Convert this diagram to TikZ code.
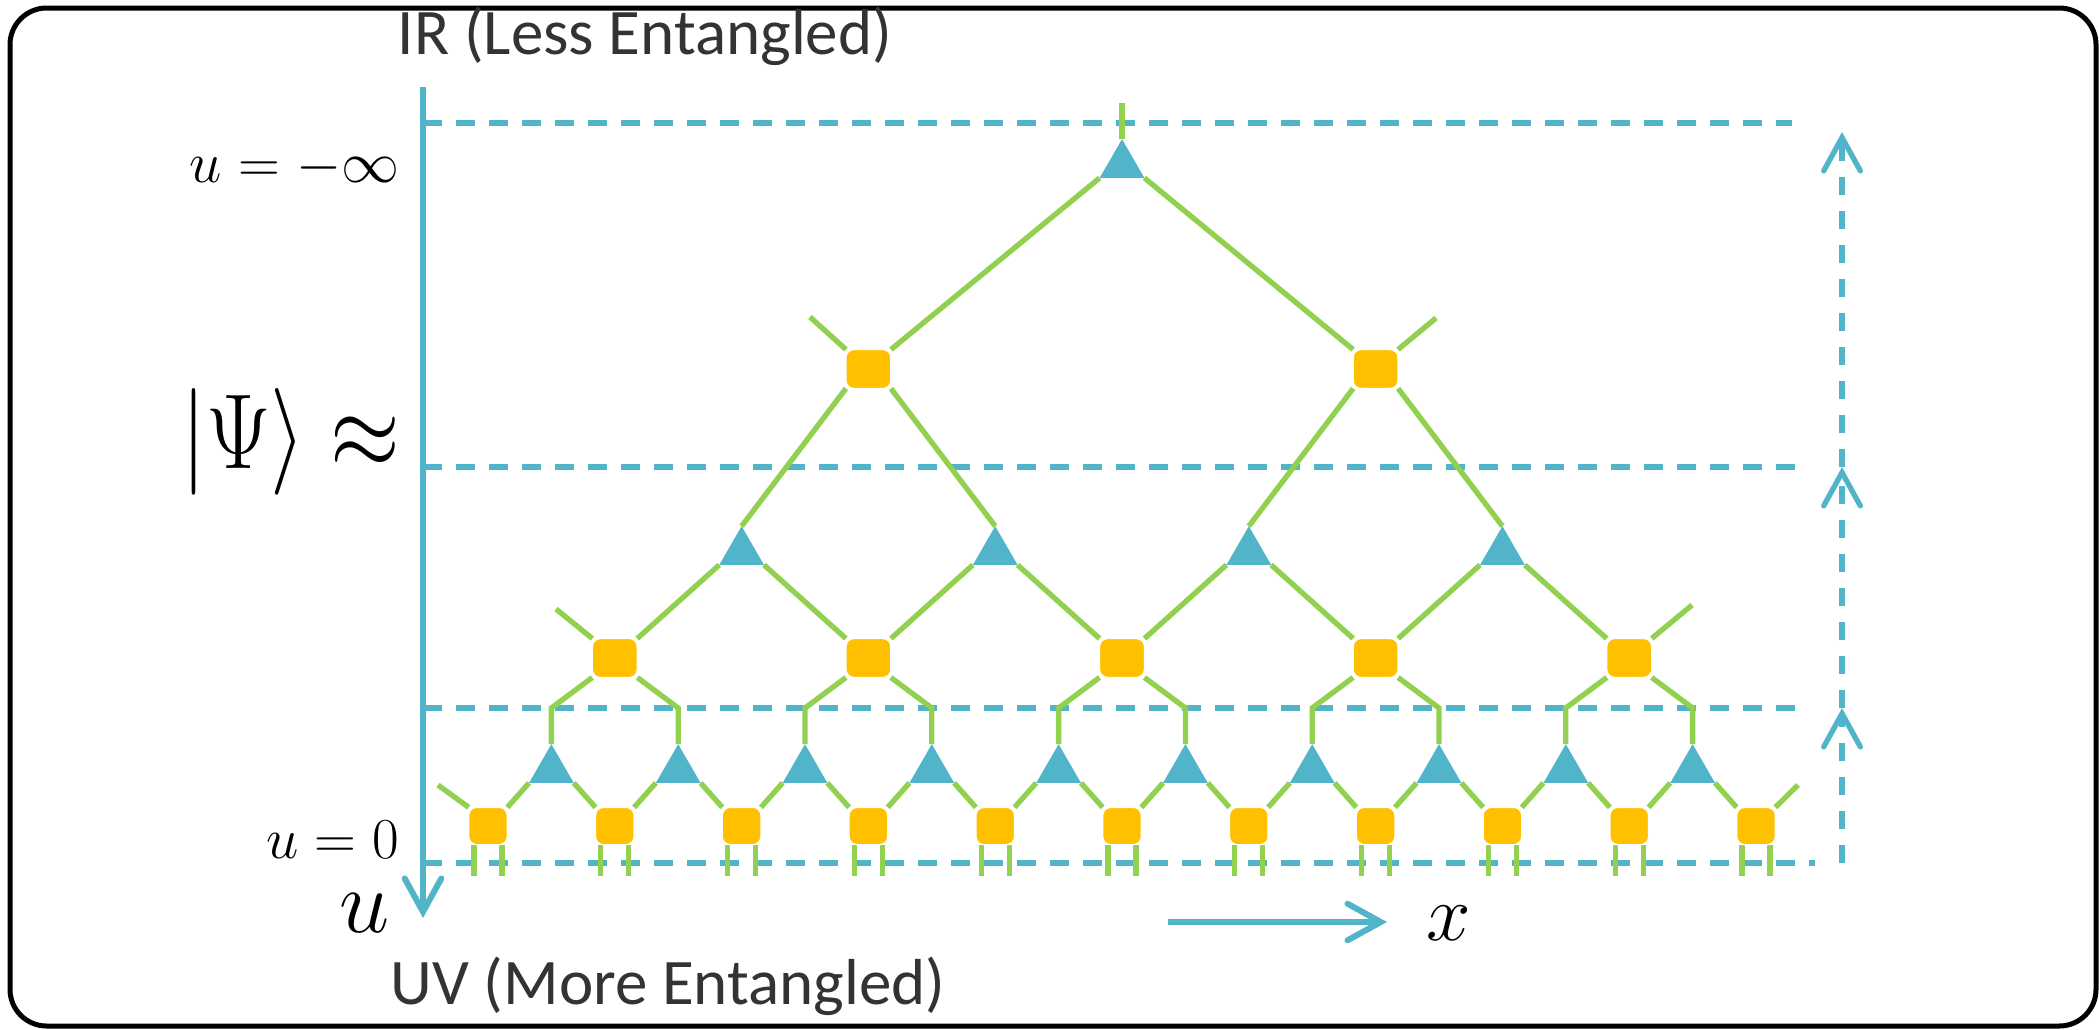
\RequirePackage{fix-cm}
\documentclass[tikz,border=0pt]{standalone}
\usepackage{fontspec}
\newfontfamily\calib{Carlito}
\usepackage{tikz}
\usetikzlibrary{shapes.geometric, arrows.meta, backgrounds}
\definecolor{colorLeg}{HTML}{92D050}
\definecolor{colorDisent}{HTML}{FFC000}
\definecolor{colorIsom}{HTML}{52B4C8}

\begin{document}
\begin{tikzpicture}[x=0.3pt, y=-0.3pt,
        dis/.style={fill=colorDisent, draw=white, line width=0.4pt, rounded corners=2.4pt,
            minimum width=13.5pt, minimum height=11.7pt, inner sep=0pt, outer sep=0pt},
        iso/.style={regular polygon, regular polygon sides=3, fill=colorIsom,
            minimum size=15.5pt, inner sep=0pt, outer sep=0pt},
        leg/.style={colorLeg, line width=1.6pt},
        cut/.style={colorIsom, line width=1.6pt, dash pattern=on 5.7pt off 4.2pt},
        tip/.style={-{Straight Barb[length=10pt, width=11pt, line cap=round]}},
        ax/.style={colorIsom, line width=1.8pt, tip},
        lbl/.style={font=\calib\fontsize{19.5}{22}\selectfont, text=black!80}
    ]
        \useasboundingbox (0,0) rectangle (2099,1029);
        \draw[line width=1.5pt, rounded corners=11pt] (10,8) rectangle (2096,1026);

        % MERA nodes
        \node[iso] (t) at ({488+5*126.8},165) {};
        \foreach \i/\k in {1/3, 2/7} \node[dis] (a\i) at ({488+\k*126.8},369) {};
        \foreach \i in {1,...,4} \node[iso] (b\i) at ({488+2*\i*126.8},552) {};
        \foreach \i in {1,...,5} \node[dis] (c\i) at ({488+(2*\i-1)*126.8},658) {};
        \foreach \i in {1,...,10} \node[iso] (d\i) at ({488+(\i-0.5)*126.8},770) {};
        \foreach \i in {0,...,10} \node[dis, minimum width=11.6pt, minimum height=11.2pt] (e\i) at ({488+\i*126.8},826) {};

        \coordinate (tTop) at ({488+5*126.8},103);
        \coordinate (a1Out) at (810,317);  \coordinate (a2Out) at (1436,318);
        \coordinate (c1Out) at (556,609);  \coordinate (c5Out) at (1692,605);
        \coordinate (e0Out) at (438,785);  \coordinate (e10Out) at (1798,785);
        \coordinate (kink) at (0,708);
        \coordinate (base) at (0,876);

        \begin{scope}[on background layer]
            \foreach \y/\e in {123/1792, 467/1800, 708/1800, 863/1815} \draw[cut] (423,\y) -- (\e,\y);
            \draw[leg] (t.corner 1) -- (tTop);
            \draw[leg] (t.corner 2) -- (a1.north east);
            \draw[leg] (t.corner 3) -- (a2.north west);
            \draw[leg] (a1.north west) -- (a1Out); \draw[leg] (a2.north east) -- (a2Out);
            \draw[leg] (c1.north west) -- (c1Out); \draw[leg] (c5.north east) -- (c5Out);
            \draw[leg] (e0.north west) -- (e0Out); \draw[leg] (e10.north east) -- (e10Out);
            \foreach \i [evaluate=\i as \l using int(2*\i-1), evaluate=\i as \r using int(2*\i)] in {1,2} {
                \draw[leg] (a\i.south west) -- (b\l.corner 1);
                \draw[leg] (a\i.south east) -- (b\r.corner 1);
            }
            \foreach \i [evaluate=\i as \n using int(\i+1)] in {1,...,4} {
                \draw[leg] (b\i.corner 2) -- (c\i.north east);
                \draw[leg] (b\i.corner 3) -- (c\n.north west);
            }
            \foreach \i [evaluate=\i as \l using int(2*\i-1), evaluate=\i as \r using int(2*\i)] in {1,...,5} {
                \draw[leg] (c\i.south west) -- (d\l.corner 1 |- kink) -- (d\l.corner 1);
                \draw[leg] (c\i.south east) -- (d\r.corner 1 |- kink) -- (d\r.corner 1);
            }
            \foreach \i [evaluate=\i as \p using int(\i-1)] in {1,...,10} {
                \draw[leg] (d\i.corner 2) -- (e\p.north east);
                \draw[leg] (d\i.corner 3) -- (e\i.north west);
            }
            \foreach \i in {0,...,10} {
                \draw[leg] ([xshift=-4.2pt]e\i.south) -- ([xshift=-4.2pt]e\i.south |- base);
                \draw[leg] ([xshift=4.2pt]e\i.south) -- ([xshift=4.2pt]e\i.south |- base);
            }
        \end{scope}

        % axes
        \coordinate (ejeA) at (423,87);   \coordinate (ejeB) at (423,918);
        \coordinate (xA) at (1168,922);   \coordinate (xB) at (1387,922);
        \draw[ax] (ejeA) -- (ejeB);
        \draw[ax] (xA) -- (xB);
        \coordinate (r0) at (1842,863);   \coordinate (r1) at (1842,708);
        \coordinate (r2) at (1842,467);   \coordinate (r3) at (1842,132);
        \draw[cut, dash pattern=on 5.4pt off 4.8pt, tip] (r0) -- (r1);
        \draw[cut, dash pattern=on 5.4pt off 4.8pt, tip] (r1) -- (r2);
        \draw[cut, dash pattern=on 5.4pt off 4.8pt, tip] (r2) -- (r3);

        % labels
        \node[lbl, anchor=base] (ir) at (645,54) {IR (Less Entangled)};
        \node[lbl, anchor=base] (uv) at (668,1004) {UV (More Entangled)};
        \node[anchor=base east, inner sep=0pt] (uInf) at (400,182) {\fontsize{17.4}{20}\selectfont$u=-\infty$};
        \node[anchor=base east, inner sep=0pt] (uCero) at (400,858) {\fontsize{17.4}{20}\selectfont$u=0$};
        \node[anchor=base east, inner sep=0pt] (psi) at (401,468) {\scalebox{0.84}[1]{\fontsize{32}{36}\selectfont$|\Psi\rangle\approx$}};
        \node[anchor=base east, inner sep=0pt] (uEje) at (390,932) {\fontsize{27}{30}\selectfont$u$};
        \node[anchor=base west, inner sep=0pt] (xEje) at (1426,940) {\fontsize{24}{26}\selectfont$x$};
    \end{tikzpicture}
\end{document}
